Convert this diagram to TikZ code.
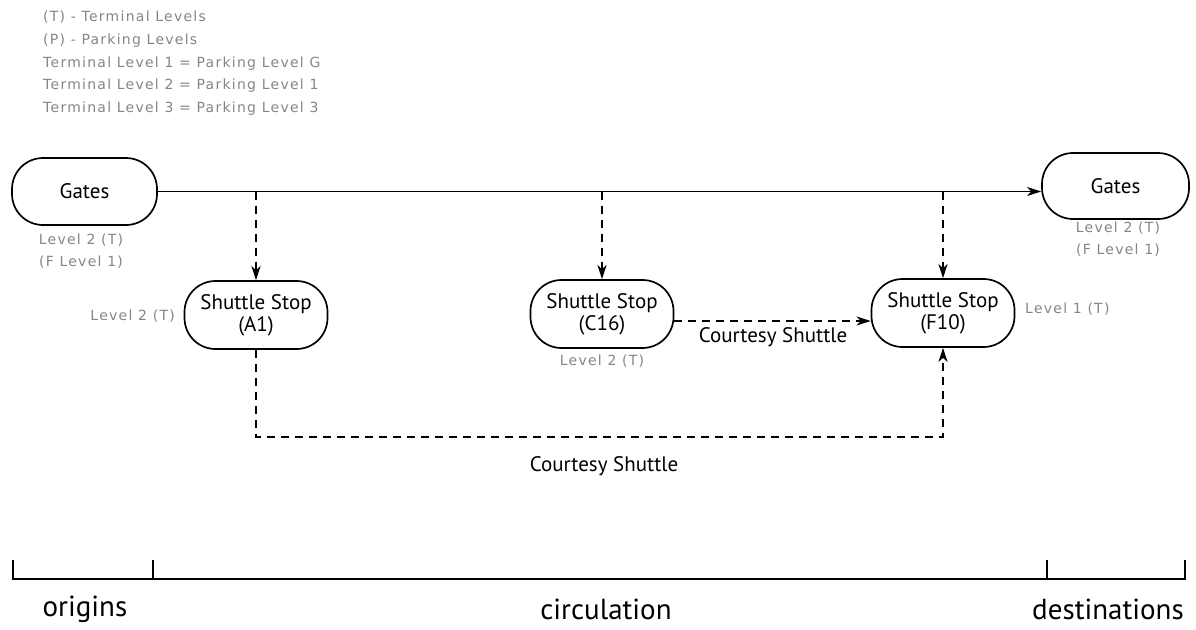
\documentclass[tikz,border=0pt]{standalone}
\usepackage{fontspec}
\setmainfont{PT Sans}
\newfontfamily\notefont[LetterSpace=9]{DejaVu Sans}
\usetikzlibrary{arrows.meta}
\definecolor{notegray}{gray}{0.52}
\begin{document}
\begin{tikzpicture}[x=1pt,y=-1pt,
  stadium/.style={draw,line width=1.7pt,rounded corners=31pt,
    align=center,font=\fontsize{21}{22}\selectfont,inner sep=0pt},
  stop/.style={stadium,minimum width=143pt,minimum height=68pt},
  note/.style={text=notegray,font=\notefont\fontsize{14}{22}\selectfont,inner sep=0pt},
  flow/.style={line width=1.8pt,-{Stealth[length=14pt,width=9pt,inset=4pt]}},
  shuttle/.style={flow,dash pattern=on 8pt off 6pt},
  scale line/.style={line width=2.4pt},
  span label/.style={font=\fontsize{29}{32}\selectfont,inner sep=0pt},
  ride label/.style={font=\fontsize{21}{24}\selectfont,inner sep=0pt}]
\useasboundingbox (0,0) rectangle (1196,629);

% legend
\node[note,anchor=north west,align=left,font=\notefont\fontsize{14}{22.7}\selectfont]
  (legend) at (43,11)
  {(T) - Terminal Levels\\(P) - Parking Levels\\Terminal Level 1 = Parking Level G\\
   Terminal Level 2 = Parking Level 1\\Terminal Level 3 = Parking Level 3};

% gates
\node[stadium,minimum width=145pt,minimum height=67pt] (gl) at (84.5,191.5) {Gates};
\node[stadium,minimum width=147pt,minimum height=66pt] (gr) at (1115.5,186) {Gates};
\node[note,align=center] (gllab) at (81,251) {Level 2 (T)\\(F Level 1)};
\node[note,align=center] (grlab) at (1118,239) {Level 2 (T)\\(F Level 1)};

% shuttle stops
\node[stop] (a1) at (256,315) {Shuttle Stop\\(A1)};
\node[stop] (c16) at (602,314) {Shuttle Stop\\(C16)};
\node[stop] (f10) at (943,313) {Shuttle Stop\\(F10)};
\node[note,anchor=east] (a1lab) at (175,316) {Level 2 (T)};
\node[note] (c16lab) at (602,361) {Level 2 (T)};
\node[note,anchor=west] (f10lab) at (1025,309) {Level 1 (T)};

% main walkway
\draw[flow] (gl.east) -- (gl.east -| gr.west);
\coordinate (ja) at (gl.east -| a1.north);
\coordinate (jc) at (gl.east -| c16.north);
\coordinate (jf) at (gl.east -| f10.north);
\draw[shuttle] (ja) -- (a1.north);
\draw[shuttle] (jc) -- (c16.north);
\draw[shuttle] (jf) -- (f10.north);

% courtesy shuttles
\draw[shuttle] ([yshift=-7pt]c16.east) -- ([yshift=-7pt]c16.east -| f10.west);
\node[ride label] (cs1) at (773,337) {Courtesy Shuttle};
\coordinate (loop) at (256,437);
\draw[shuttle] (a1.south) -- (loop) -- (loop -| f10.south) -- (f10.south);
\node[ride label] (cs2) at (604,466) {Courtesy Shuttle};

% span scale
\coordinate (s0) at (13,579);
\coordinate (s1) at (153,579);
\coordinate (s2) at (1047,579);
\coordinate (s3) at (1185,579);
\draw[scale line] ([yshift=19pt]s0) -- (s0) -- (s3) -- ([yshift=19pt]s3);
\draw[scale line] (s1) -- ([yshift=19pt]s1);
\draw[scale line] (s2) -- ([yshift=19pt]s2);
\node[span label] (orig) at (85,609) {origins};
\node[span label] (circ) at (606,609) {circulation};
\node[span label] (dest) at (1108,609) {destinations};
\end{tikzpicture}
\end{document}
